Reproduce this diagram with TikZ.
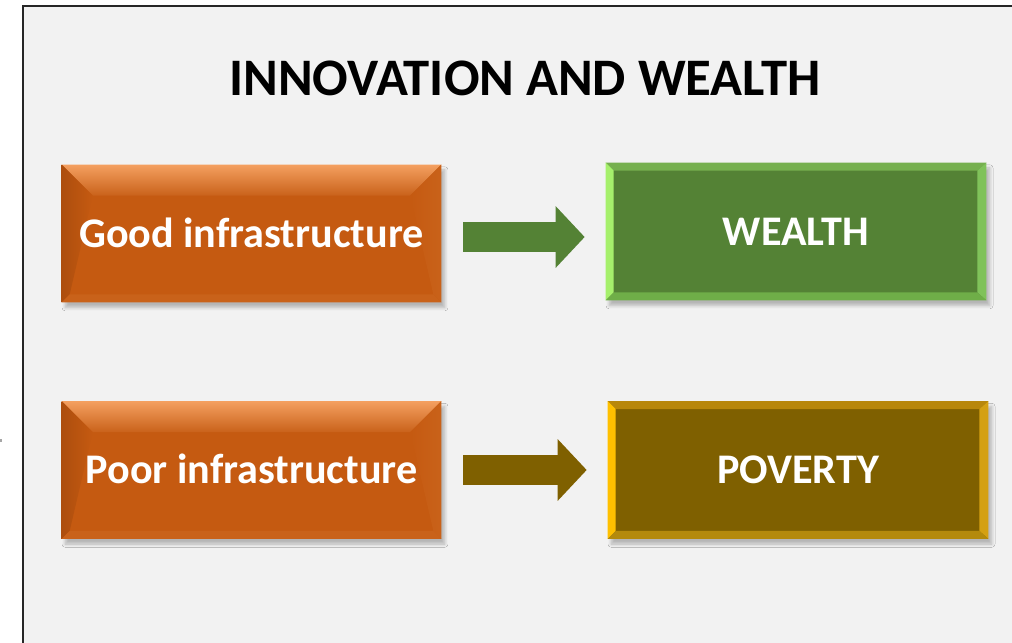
\documentclass[tikz,border=0pt]{standalone}
\usepackage{fontspec}
\setmainfont{Carlito}
\usetikzlibrary{arrows.meta,shadows.blur,backgrounds}
\definecolor{panelgray}{HTML}{F2F2F2}
\definecolor{rust}{HTML}{C55A11}
\definecolor{rustlight}{HTML}{F4A060}
\definecolor{rustmid}{HTML}{C9621A}
\definecolor{rustdark}{HTML}{AD4E0E}
\definecolor{leaf}{HTML}{548235}
\definecolor{leaftop}{HTML}{76B04F}
\definecolor{leafleft}{HTML}{A6F06C}
\definecolor{leafright}{HTML}{80C25A}
\definecolor{leafbot}{HTML}{6FAE48}
\definecolor{ochre}{HTML}{7F6000}
\definecolor{ochretop}{HTML}{B8870B}
\definecolor{ochreleft}{HTML}{FFC000}
\definecolor{ochreright}{HTML}{D4A012}
\definecolor{ochrebot}{HTML}{B48A0C}
\tikzset{
  heading/.style={font=\bfseries\fontsize{30}{36}\selectfont,text height=19pt,text depth=0pt,inner sep=0pt},
  lbl/.style={text=white,font=\bfseries\fontsize{24}{28}\selectfont,text height=15.5pt,text depth=0pt,inner sep=0pt},
  causebox/.style={lbl,rectangle,minimum width=7.58cm,minimum height=2.74cm},
  effectbox/.style={lbl,rectangle,minimum width=7.6cm,minimum height=2.74cm},
  softshadow/.style={blur shadow={shadow xshift=2pt,shadow yshift=-3pt,shadow blur steps=6,shadow blur radius=1.8pt,shadow opacity=25}},
  blockarrow/.style={line width=0.6cm,-{Triangle[length=0.58cm,width=1.2cm]},shorten <=0.44cm,shorten >=0.42cm}
}
\begin{document}
\begin{tikzpicture}[x=0.02cm,y=-0.02cm]
        \useasboundingbox (0,0) rectangle (1012,643);
        \node[heading] (head) at (525,78.5) {INNOVATION AND WEALTH};
        \node[causebox] (good) at (251.5,233.5) {Good infrastructure};
        \node[causebox] (poor) at (251.5,470) {Poor infrastructure};
        \node[effectbox] (wealth) at (796,231.5) {WEALTH};
        \node[effectbox] (poverty) at (798,470) {POVERTY};
        \begin{scope}[on background layer]
        \fill[panelgray] (23,6) rectangle (1012,643);
        \draw[line width=1.2pt,black!85] (23,643) -- (23,6) -- (1012,6);
        \fill[gray!70] (0,439) rectangle (2,442);
        \foreach \bx in {good,poor}{
        \fill[rust,softshadow] (\bx.north west) rectangle (\bx.south east);
        \shade[top color=rustlight,bottom color=rustmid] (\bx.north west) -- (\bx.north east) -- ([shift={(-31,31)}]\bx.north east) -- ([shift={(31,31)}]\bx.north west) -- cycle;
        \shade[left color=rustdark,right color=rust] (\bx.north west) -- ([shift={(31,31)}]\bx.north west) -- ([shift={(8,-8)}]\bx.south west) -- (\bx.south west) -- cycle;
        \shade[left color=rust,right color=rustmid] (\bx.north east) -- ([shift={(-31,31)}]\bx.north east) -- ([shift={(-8,-8)}]\bx.south east) -- (\bx.south east) -- cycle;
        \fill[rustmid] (\bx.south west) -- ([shift={(8,-8)}]\bx.south west) -- ([shift={(-8,-8)}]\bx.south east) -- (\bx.south east) -- cycle;
        }
        \foreach \bx/\topc/\lftc/\rgtc/\botc/\midc in {wealth/leaftop/leafleft/leafright/leafbot/leaf,poverty/ochretop/ochreleft/ochreright/ochrebot/ochre}{
        \fill[\midc,softshadow] (\bx.north west) rectangle (\bx.south east);
        \fill[\topc] (\bx.north west) -- (\bx.north east) -- ([shift={(-9,8)}]\bx.north east) -- ([shift={(8,8)}]\bx.north west) -- cycle;
        \fill[\lftc] (\bx.north west) -- ([shift={(8,8)}]\bx.north west) -- ([shift={(8,-8)}]\bx.south west) -- (\bx.south west) -- cycle;
        \fill[\rgtc] (\bx.north east) -- ([shift={(-9,8)}]\bx.north east) -- ([shift={(-9,-8)}]\bx.south east) -- (\bx.south east) -- cycle;
        \fill[\botc] (\bx.south west) -- ([shift={(8,-8)}]\bx.south west) -- ([shift={(-9,-8)}]\bx.south east) -- (\bx.south east) -- cycle;
        }
        \end{scope}
        \draw[blockarrow,leaf] ([yshift=-2pt]good.east) -- ([yshift=-2pt]good.east -| wealth.west);
        \draw[blockarrow,ochre] (poor.east) -- (poor.east -| poverty.west);
    \end{tikzpicture}
\end{document}
